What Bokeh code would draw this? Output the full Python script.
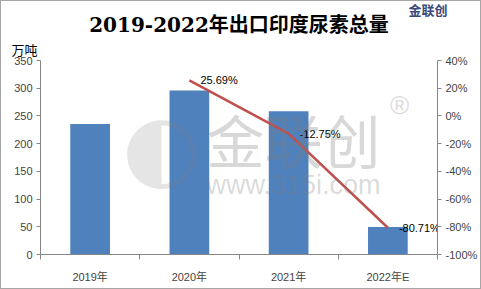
from bokeh.plotting import figure
from bokeh.models import Range1d, LinearAxis, FixedTicker, Label, ColumnDataSource, Title
from bokeh.embed import file_html
from bokeh.resources import INLINE

categories = ["2019年", "2020年", "2021年", "2022年E"]
volume = [235.5, 296.0, 258.3, 49.8]          # 万吨
growth_cats = ["2020年", "2021年", "2022年E"]
growth = [25.69, -12.75, -80.71]              # %
left_ticks = [0, 50, 100, 150, 200, 250, 300, 350]
right_ticks = [-100, -80, -60, -40, -20, 0, 20, 40]

W, H = 481, 289
FL, FT, FR, FB = 39, 59, 45, 36   # frame borders
FONT = "Liberation Sans, Noto Sans CJK SC"

p = figure(width=W, height=H, output_backend="svg", toolbar_location=None,
           x_range=Range1d(0, 4), y_range=Range1d(0, 350),
           min_border_left=FL, min_border_right=FR, min_border_top=FT, min_border_bottom=FB)
p.title = None
p.outline_line_color = None
p.xgrid.visible = False
p.ygrid.visible = False
p.background_fill_color = "white"
p.border_fill_color = "white"
p.styles = {"border": "1px solid #a6a6a6", "box-sizing": "border-box"}

p.extra_y_ranges = {"pct": Range1d(-100, 40)}

xc = [i + 0.5 for i in range(len(categories))]
src = ColumnDataSource(dict(x=xc, v=volume))
p.vbar(x="x", top="v", width=0.4, source=src, fill_color="#4F81BD", line_color=None)

gx = [categories.index(c) + 0.5 for c in growth_cats]
gsrc = ColumnDataSource(dict(x=gx, g=growth, t=[f"{g:.2f}%" for g in growth]))
p.line(x="x", y="g", source=gsrc, y_range_name="pct", line_color="#C0504D", line_width=2.5)
p.text(x="x", y="g", text="t", source=gsrc, y_range_name="pct", x_offset=11,
       text_font_size="11px", text_baseline="middle", text_align="left", text_color="#000000")

AX = "#868686"
xa = p.xaxis[0]
xa.ticker = FixedTicker(ticks=xc, minor_ticks=[0, 1, 2, 3, 4])
xa.major_label_overrides = {x: c for x, c in zip(xc, categories)}
xa.major_tick_line_color = None
xa.minor_tick_line_color = AX
xa.minor_tick_out = 5
xa.minor_tick_in = 0
xa.axis_line_color = AX
xa.major_label_text_font_size = "11px"
xa.major_label_text_font = FONT
xa.major_label_standoff = 10

ya = p.yaxis[0]
ya.ticker = FixedTicker(ticks=left_ticks)
ya.minor_tick_line_color = None
ya.major_tick_out = 4
ya.major_tick_in = 0
ya.major_tick_line_color = AX
ya.axis_line_color = AX
ya.major_label_text_font_size = "11px"
ya.major_label_text_font = FONT
ya.major_label_standoff = 4

ra = LinearAxis(y_range_name="pct", ticker=FixedTicker(ticks=right_ticks))
ra.major_label_overrides = {t: f"{t}%" for t in right_ticks}
ra.minor_tick_line_color = None
ra.major_tick_out = 4
ra.major_tick_in = 0
ra.major_tick_line_color = AX
ra.axis_line_color = AX
ra.major_label_text_font_size = "11px"
ra.major_label_text_font = FONT
ra.major_label_standoff = 4
p.add_layout(ra, "right")

# texts above the frame: stacked titles (nearest first)
p.add_layout(Title(text="万吨", align="left", offset=-29, standoff=3,
                   text_font="Noto Sans CJK SC", text_font_size="13px",
                   text_font_style="normal", text_color="#000000"), "above")
p.add_layout(Title(text="2019-2022年出口印度尿素总量", align="center", offset=2, standoff=-1,
                   text_font="DejaVu Serif, Noto Sans CJK SC", text_font_size="20px",
                   text_font_style="bold", text_color="#000000"), "above")
p.add_layout(Title(text="金联创", align="right", offset=-10, standoff=-19, vertical_align="top",
                   text_font="Noto Sans CJK SC", text_font_size="13px",
                   text_font_style="bold", text_color="#3A4A7A"), "above")

FRAME_BOTTOM = H - FB

def lab(cx, ctop, text, size, color="#000000", font=FONT, style="normal", align="left", alpha=1.0):
    # screen units are relative to the frame's bottom-left corner
    p.add_layout(Label(x=cx - FL, y=FRAME_BOTTOM - ctop, x_units="screen", y_units="screen",
                       text=text, text_font_size=size, text_color=color, text_font=font,
                       text_font_style=style, text_align=align, text_baseline="top",
                       text_alpha=alpha))

# watermark
lab(160, 92, "◐", "90px", color="#7f7f7f", font="DejaVu Sans", align="center", alpha=0.2)
lab(292, 95, "金联创", "58px", color="#7f7f7f", font="Noto Sans CJK SC", align="center", alpha=0.3)
lab(292, 168, "www.315i.com", "27px", color="#7f7f7f", font="Liberation Sans", align="center", alpha=0.3)
lab(398, 88, "®", "26px", color="#7f7f7f", font="Liberation Sans", align="center", alpha=0.3)

open("out.html", "w").write(file_html(p, INLINE))
